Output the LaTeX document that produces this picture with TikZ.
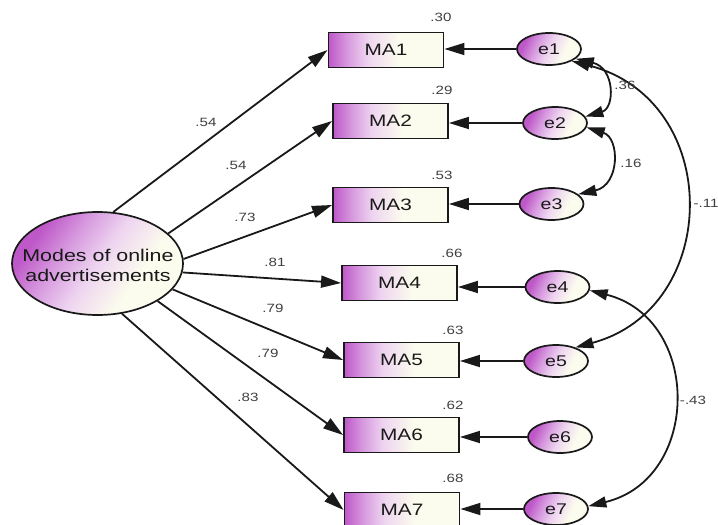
\documentclass[tikz,border=0pt]{standalone}
\usepackage{fontspec}
\setmainfont{Liberation Sans}[FakeStretch=1.26]
\usetikzlibrary{arrows.meta,shapes.geometric}

\definecolor{pdeep}{RGB}{190,88,200}
\definecolor{pmid}{RGB}{214,152,222}
\definecolor{plite}{RGB}{238,212,240}
\definecolor{cream}{RGB}{251,251,238}
\definecolor{ink}{RGB}{25,25,25}

% purple-to-cream fades: a quick one for boxes, a softer one for ellipses
\pgfdeclarehorizontalshading{fade}{100bp}{color(0bp)=(pdeep); color(25bp)=(pdeep); color(33bp)=(pmid); color(42bp)=(plite); color(55bp)=(cream); color(100bp)=(cream)}
\pgfdeclarehorizontalshading{softfade}{100bp}{color(0bp)=(pdeep); color(27bp)=(pdeep); color(38bp)=(pmid); color(50bp)=(plite); color(64bp)=(cream); color(100bp)=(cream)}

\begin{document}
\begin{tikzpicture}[x=1pt,y=-1pt,
  obs/.style={rectangle, draw=ink, line width=1.9pt, minimum width=115pt, minimum height=35pt,
    inner sep=0pt, shading=fade, shade, font=\fontsize{16.5}{18}\selectfont, text=ink},
  err/.style={ellipse, draw=ink, line width=1.7pt, minimum width=64pt, minimum height=32pt,
    inner sep=0pt, shading=softfade, shade, shading angle=-25, font=\fontsize{15.5}{17}\selectfont, text=ink},
  lat/.style={ellipse, draw=ink, line width=1.7pt, minimum width=171pt, minimum height=103pt,
    inner sep=0pt, shading=softfade, shade, shading angle=-35},
  coef/.style={font=\fontsize{12}{13}\selectfont, text=black!75, inner sep=0pt},
  reg/.style={draw=ink, line width=1.8pt, -{Triangle[length=20pt,width=12pt]}},
  cov/.style={draw=ink, line width=1.8pt,
    {Triangle[length=18pt,width=11pt]}-{Triangle[length=18pt,width=11pt]}},
]
\useasboundingbox (0,0) rectangle (718,525);

% latent factor
\node[lat] (F) at (97.5,263.5) {};
\node[align=center, font=\fontsize{17}{20}\selectfont, text=ink, inner sep=0pt] (Ft) at (98,265)
  {Modes of online\\advertisements};

% indicators
\node[obs] (MA1) at (386,50) {MA1};
\node[obs] (MA2) at (390.5,121) {MA2};
\node[obs] (MA3) at (390.5,205) {MA3};
\node[obs] (MA4) at (399.5,283) {MA4};
\node[obs] (MA5) at (401.5,360) {MA5};
\node[obs] (MA6) at (401.5,435) {MA6};
\node[obs] (MA7) at (402,510) {MA7};

% error terms
\node[err] (e1) at (549,49) {e1};
\node[err] (e2) at (555,123) {e2};
\node[err] (e3) at (551.5,204) {e3};
\node[err] (e4) at (557.5,287) {e4};
\node[err] (e5) at (556,361) {e5};
\node[err] (e6) at (560,437) {e6};
\node[err] (e7) at (556,509) {e7};

% loadings
\draw[reg] (F.73)  -- (MA1.west);
\draw[reg] (F.23)  -- (MA2.west);
\draw[reg] (F.3)   -- (MA3.west);
\draw[reg] (F.-6)  -- (MA4.west);
\draw[reg] (F.-19) -- (MA5.west);
\draw[reg] (F.-32) -- (MA6.west);
\draw[reg] (F.-64) -- (MA7.west);

% error paths
\foreach \i in {1,...,7}
  \draw[reg] (e\i.west) -- (e\i.west -| MA\i.east);

% error covariances
\draw[cov] (e1.-20) .. controls (615,68) and (615,108) .. (e2.12);
\draw[cov] (e2.-8) .. controls (620,138) and (620,185) .. (e3.20);
\draw[cov] (e1.-28) .. controls (724,100) and (722,308) .. (e5.35);
\draw[cov] (e4.-6) .. controls (702,319) and (701,479) .. (e7.5);

% loading estimates
\node[coef] (l1) at (206,122) {.54};
\node[coef] (l2) at (236,165) {.54};
\node[coef] (l3) at (245,217) {.73};
\node[coef] (l4) at (275,262) {.81};
\node[coef] (l5) at (273,308) {.79};
\node[coef] (l6) at (268,353) {.79};
\node[coef] (l7) at (248,397) {.83};

% squared multiple correlations
\node[coef] (r1) at (441,17) {.30};
\node[coef] (r2) at (442,90) {.29};
\node[coef] (r3) at (442,175) {.53};
\node[coef] (r4) at (452,253) {.66};
\node[coef] (r5) at (453,330) {.63};
\node[coef] (r6) at (453,405) {.62};
\node[coef] (r7) at (453,478) {.68};

% covariance estimates
\node[coef] (c12) at (625,85) {.36};
\node[coef] (c23) at (631,163) {.16};
\node[coef] (c15) at (706,203) {-.11};
\node[coef] (c47) at (693,400) {-.43};
\end{tikzpicture}
\end{document}
